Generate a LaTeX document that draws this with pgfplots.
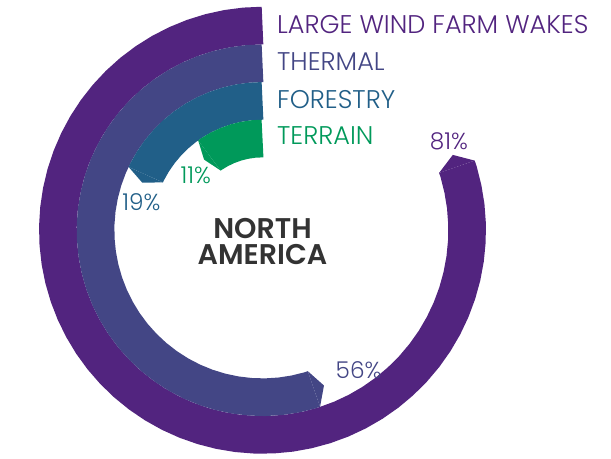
\documentclass[border=0pt]{standalone}
\usepackage{pgfplots}
\pgfplotsset{compat=1.18}
\usepackage{pgfplotstable}
\usepackage{fontspec}
\setmainfont{Poppins}[UprightFont={* Light}]
\usetikzlibrary{arrows.meta}

\definecolor{cWake}{RGB}{82,36,127}
\definecolor{cTherm}{RGB}{67,70,133}
\definecolor{cFor}{RGB}{33,95,136}
\definecolor{cTer}{RGB}{0,153,90}
\definecolor{cDark}{RGB}{51,51,51}

% percentage of each ring and its mid radius (px)
\pgfplotstableread{
pct r
81 212
56 173
19 134
11 95
}\ringdata

% #1 pct, #2 radius, #3 colour, #4 tip length, #5 samples
\newcommand\ring[5]{%
  \addplot[draw=#3, line width=39pt, domain=0:#1, samples=#5, variable=\t,
    -{Triangle[length=#4pt, width=39pt, line width=0pt]}]
    ({#2*cos(90+3.6*\t)}, {#2*sin(90+3.6*\t)});
}

\begin{document}
\pgfplotstablegetelem{0}{pct}\of\ringdata \edef\pA{\pgfplotsretval}
\pgfplotstablegetelem{1}{pct}\of\ringdata \edef\pB{\pgfplotsretval}
\pgfplotstablegetelem{2}{pct}\of\ringdata \edef\pC{\pgfplotsretval}
\pgfplotstablegetelem{3}{pct}\of\ringdata \edef\pD{\pgfplotsretval}
\pgfplotstablegetelem{0}{r}\of\ringdata \edef\rA{\pgfplotsretval}
\pgfplotstablegetelem{1}{r}\of\ringdata \edef\rB{\pgfplotsretval}
\pgfplotstablegetelem{2}{r}\of\ringdata \edef\rC{\pgfplotsretval}
\pgfplotstablegetelem{3}{r}\of\ringdata \edef\rD{\pgfplotsretval}
\begin{tikzpicture}
\begin{axis}[
  x=1pt, y=1pt,
  xmin=-250, xmax=361, ymin=-236.5, ymax=238.5,
  enlargelimits=false,
  hide axis, clip=false,
]
\coordinate (bbl) at (axis cs:-250,-236.5);
\coordinate (btr) at (axis cs:361,238.5);
\ring{\pA}{\rA}{cWake}{13}{60}
\ring{\pB}{\rB}{cTherm}{11}{40}
\ring{\pC}{\rC}{cFor}{9}{14}
\ring{\pD}{\rD}{cTer}{7}{8}

\begin{scope}[every node/.style={font=\fontsize{26.5}{26.5}\selectfont, inner sep=0pt}]
\node[anchor=base west, text=cWake]  at (axis cs:15,203.5) {LARGE WIND FARM WAKES};
\node[anchor=base west, text=cTherm] at (axis cs:15,165.5) {THERMAL};
\node[anchor=base west, text=cFor]   at (axis cs:15,126.5) {FORESTRY};
\node[anchor=base west, text=cTer]   at (axis cs:15,88.5)  {TERRAIN};
\end{scope}
\begin{scope}[every node/.style={font=\fontsize{24}{24}\selectfont, inner sep=0pt}]
\node[anchor=base, text=cWake]  at (axis cs:193,83.5)   {\pA\%};
\node[anchor=base, text=cTherm] at (axis cs:99.5,-153.5) {\pB\%};
\node[anchor=base, text=cFor]   at (axis cs:-125.5,20.5) {\pC\%};
\node[anchor=base, text=cTer]   at (axis cs:-69,48.5)    {\pD\%};
\end{scope}

\node[anchor=base, inner sep=0pt, text=cDark,
  font=\fontsize{29.5}{29.5}\selectfont\bfseries] at (axis cs:0,-8.5) {NORTH};
\node[anchor=base, inner sep=0pt, text=cDark,
  font=\fontsize{29.5}{29.5}\selectfont\bfseries] at (axis cs:0,-35.5) {AMERICA};
\end{axis}
\pgfresetboundingbox
\path (bbl) rectangle (btr);
\end{tikzpicture}
\end{document}
